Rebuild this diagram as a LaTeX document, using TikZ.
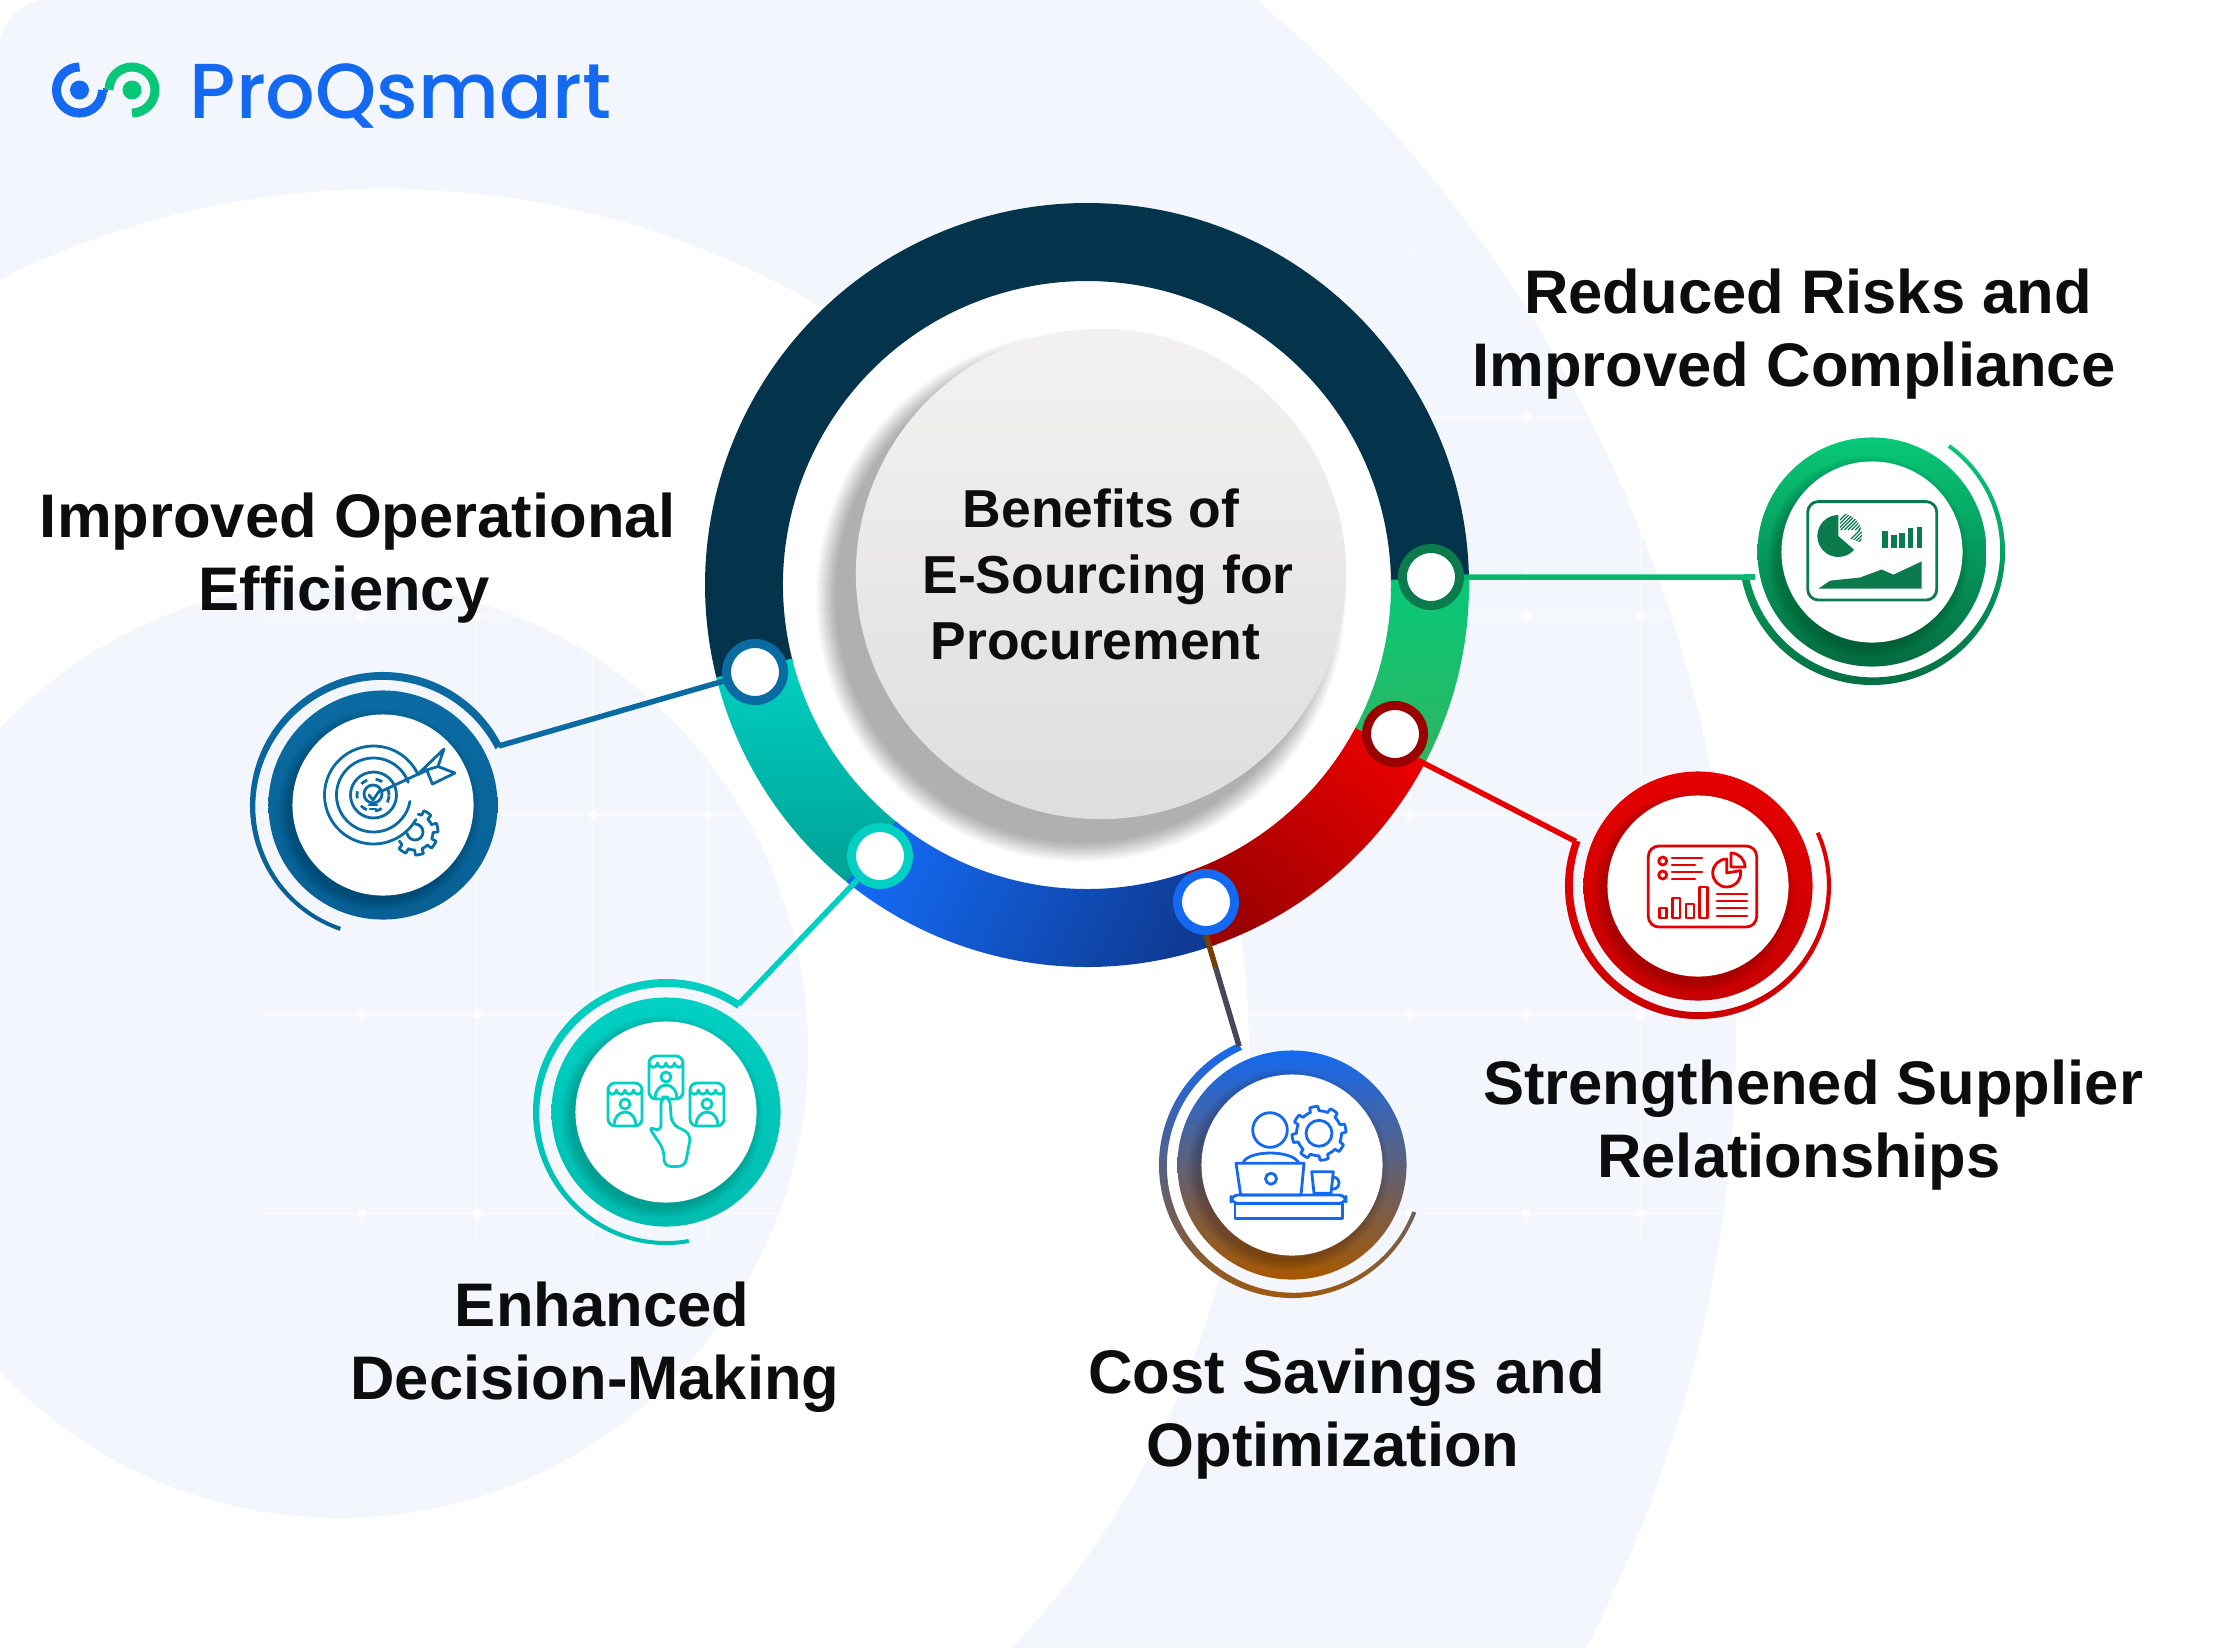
\documentclass[tikz,border=0pt]{standalone}
\usepackage{fontspec}
\usepackage{tikz}
\setmainfont{Liberation Sans}
\newfontfamily\logofont{Poppins Medium}
\definecolor{bgblue}{HTML}{F3F6FC}
\definecolor{navy}{HTML}{04344C}
\definecolor{qblue}{HTML}{1469F0}
\definecolor{qgreen}{HTML}{08C878}
\definecolor{qgreenb}{HTML}{2EB560}
\definecolor{deepblue}{HTML}{0E3A93}
\definecolor{opblue}{HTML}{0A6BA2}
\definecolor{opdark}{HTML}{086094}
\definecolor{teal}{HTML}{00D0C2}
\definecolor{tealmid}{HTML}{00BDB0}
\definecolor{tealdark}{HTML}{00A094}
\definecolor{costbrown}{HTML}{A85800}
\definecolor{rred}{HTML}{E60000}
\definecolor{rbadge}{HTML}{C80000}
\definecolor{rdark}{HTML}{9A0000}
\definecolor{gdark}{HTML}{046B40}
\definecolor{gicon}{HTML}{0B7A4C}
\definecolor{hubtop}{HTML}{F4F1F1}
\definecolor{hubbottom}{HTML}{DEDEDE}
\tikzset{
  label text/.style={font=\bfseries\fontsize{17.5}{20.9}\selectfont, align=center, inner sep=0pt, text=black!95},
  ring dot/.style={circle, fill=white, draw=#1, line width=0.09cm, minimum size=0.57cm, inner sep=0pt},
  badge/.style={circle, minimum size=2.29cm, inner sep=0pt},
  badge hole/.style={circle, fill=white, minimum size=1.81cm, inner sep=0pt},
  link/.style={line width=0.055cm, line join=miter},
  icon line/.style={line width=0.028cm, line join=round, line cap=round},
}
\newcommand{\ringpart}[5]{
  \shade[#3, #4, shading angle=#5] ([shift={(#1:382)}]1087,-585) arc[start angle=#1, end angle=#2, radius=382]
    -- ([shift={(#2:304)}]1087,-585) arc[start angle=#2, end angle=#1, radius=304] -- cycle;
}
\newcommand{\iconbadge}[7]{
  \node[badge, top color=#4, bottom color=#5] (#1) at (#2,#3) {};
  \foreach \r in {91,...,101} {
    \fill[black, opacity=0.015] (#2-4,#3-5) circle[radius=\r];
  }
  \node[badge hole] (#1hole) at (#2,#3) {};
  \shade[top color=#4, bottom color=#5] ([shift={(#6:133)}]#1.center) arc[start angle=#6, end angle=#7, radius=133]
    -- ([shift={(#7:129)}]#1.center) arc[start angle=#7, end angle=#6, radius=127] -- cycle;
  \coordinate (#1joint) at ([shift={(#6:130)}]#1.center);
}
\newcommand{\gearplot}[7]{
  \draw[icon line, #7] plot[samples=145, variable=\t, domain=#5:#6]
    ({#1+ifthenelse(sin(8*\t)>0,#3,#4)*cos(\t)},{#2+ifthenelse(sin(8*\t)>0,#3,#4)*sin(\t)});
}
\begin{document}
\begin{tikzpicture}[x=0.01cm, y=0.01cm]
  \useasboundingbox (0,0) rectangle (2215,-1648);
  \fill[white] (0,0) rectangle (2215,-1648);
  \begin{scope}
    \clip[rounded corners=14] (0,0) rectangle (2215,-1648);
    \fill[bgblue] (390,-1030) circle[radius=1346];
    \fill[white] (385,-1053) circle[radius=864];
    \fill[bgblue] (340,-1050) circle[radius=468];
    \foreach \x in {362,477,593,708,1410,1526,1641} {
      \draw[white, opacity=0.55, line width=0.015cm] (\x,-250) -- (\x,-1240);
    }
    \foreach \y in {-417,-616,-815,-1014,-1213} {
      \draw[white, opacity=0.55, line width=0.015cm] (258,\y) -- (1750,\y);
      \foreach \x in {362,477,593,708,1410,1526,1641} {
        \fill[white, opacity=0.8] (\x,\y) circle[radius=5];
      }
    }
  \end{scope}

  \draw[qblue, line width=0.09cm] (79.5,-67) arc[start angle=90, end angle=360, radius=23];
  \fill[qblue] (79.5,-90) circle[radius=9.5];
  \draw[qblue, line width=0.04cm] (102.5,-90) -- (108,-90);
  \draw[qgreen, line width=0.09cm] (132,-113) arc[start angle=-90, end angle=180, radius=23];
  \fill[qgreen] (132,-90) circle[radius=9.5];
  \node[inner sep=0pt, anchor=base west, text=qblue] (logo) at (189,-118) {\logofont\fontsize{22.15}{26}\selectfont ProQsmart};

  \fill[white] (1087,-585) circle[radius=304];
  \foreach \r in {245,...,265} {
    \fill[black, opacity=0.014] (1081,-597) circle[radius=\r];
  }
  \ringpart{-1}{194.5}{top color=navy}{bottom color=navy}{0}
  \ringpart{194}{232}{top color=teal}{bottom color=tealdark}{0}
  \ringpart{231}{290}{top color=qblue}{bottom color=deepblue}{65}
  \ringpart{-71}{-27.5}{top color=rred}{bottom color=rdark}{-40}
  \ringpart{-28}{1}{top color=qgreen}{bottom color=qgreenb}{0}
  \node[circle, top color=hubtop, bottom color=hubbottom, minimum size=4.9cm, inner sep=0pt] (hub) at (1101,-574) {};
  \node[font=\bfseries\fontsize{15.2}{18.8}\selectfont, align=center, inner sep=0pt, text=black!95] (title) at (1108,-574.5)
    {Benefits of\hspace*{0.14cm}\\E-Sourcing for\\Procurement\hspace*{0.25cm}};

  \node[ring dot=opblue] (dotop) at (755,-672) {};
  \node[ring dot=teal] (dotdec) at (880,-856) {};
  \node[ring dot=qblue] (dotcost) at (1206,-902) {};
  \node[ring dot=rdark] (dotsup) at (1395,-734) {};
  \node[ring dot=gicon] (dotrisk) at (1431,-577) {};

  \iconbadge{op}{383}{-805}{opblue}{opdark}{27}{251}
  \iconbadge{dec}{666}{-1112}{teal}{tealmid}{56}{280}
  \iconbadge{cost}{1292}{-1165}{qblue}{costbrown}{114}{339}
  \iconbadge{sup}{1698}{-886}{rred}{rbadge}{160}{384}
  \iconbadge{risk}{1872}{-552}{qgreen}{gdark}{191}{414}

  \draw[link, opblue] (dotop) -- (opjoint);
  \draw[link, teal] (dotdec) -- (decjoint);
  \path (dotcost.south) -- (costjoint) coordinate[pos=0.3] (costmid);
  \draw[link, costbrown!70!black] (dotcost.south) -- (costmid);
  \draw[link, qblue!50!costbrown!75!black] (costmid) -- (costjoint);
  \draw[link, rred] (dotsup.-50) -- (supjoint);
  \draw[link, qgreen!80!gicon] (dotrisk) -- (1755,-577) -- (riskjoint);

  \node[label text] (oplabel) at (344,-558) {\hspace*{0.28cm}Improved Operational\\Efficiency};
  \node[label text] (declabel) at (595,-1347) {\hspace*{0.14cm}Enhanced\\Decision-Making};
  \node[label text] (costlabel) at (1333,-1414) {\hspace*{0.27cm}Cost Savings and\\Optimization};
  \node[label text] (suplabel) at (1799,-1125) {\hspace*{0.28cm}Strengthened Supplier\\Relationships};
  \node[label text] (risklabel) at (1794,-334) {\hspace*{0.28cm}Reduced Risks and\\Improved Compliance};

  \begin{scope}[opblue]
    \draw[icon line] (373.5,-795) ++(25:49) arc[start angle=25, end angle=330, radius=49];
    \draw[icon line] (373.5,-795) ++(20:37) arc[start angle=20, end angle=350, radius=37];
    \draw[icon line] (373.5,-795) circle[radius=23];
    \draw[icon line] (373,-794) circle[radius=9];
    \draw[icon line, dash pattern=on 2pt off 2.4pt, line cap=butt] (373,-795) circle[radius=16];
    \draw[icon line] (369,-795) -- (373,-800) -- (380,-790);
    \draw[icon line] (369,-805) -- (377,-805) (370,-809) -- (376,-809);
    \draw[icon line] (382,-791) -- (427,-770);
    \draw[icon line] (417,-775) -- (444,-749) -- (438,-766.5) -- (455,-773) -- (432.4,-784) -- (426.7,-770) -- cycle;
    \draw[icon line] (426.7,-770) -- (438,-766.5);
    \gearplot{415}{-832}{23}{18}{-150}{80}{opblue}
    \draw[icon line] (415,-832) ++(90:8) arc[start angle=90, end angle=-170, radius=8];
  \end{scope}

  \begin{scope}[teal]
    \foreach \cx/\cy in {625/-1083, 666/-1056, 707/-1083} {
      \draw[icon line, rounded corners=2] (\cx-17,\cy) rectangle (\cx+17,\cy-43);
      \draw[icon line] (\cx-17,\cy-7) arc[start angle=180, end angle=360, radius=4.25] arc[start angle=180, end angle=360, radius=4.25] arc[start angle=180, end angle=360, radius=4.25] arc[start angle=180, end angle=360, radius=4.25];
      \draw[icon line] (\cx,\cy-21) circle[radius=5];
      \draw[icon line] (\cx-11,\cy-42) arc[start angle=180, end angle=0, x radius=11, y radius=13];
    }
    \draw[icon line, fill=white, rounded corners=2] (661,-1097) -- (661,-1132) -- (648,-1126) -- (664,-1150) -- (664,-1166.5)
      -- (685,-1166.5) -- (691,-1134) -- (671.6,-1124) -- (669.7,-1097) -- cycle;
  \end{scope}

  \begin{scope}[qblue]
    \draw[icon line] (1270,-1130) circle[radius=17.3];
    \draw[icon line] (1243.3,-1162) .. controls (1250,-1150) and (1290,-1150) .. (1298.3,-1162);
    \draw[icon line] (1236,-1163.3) -- (1304,-1163.3) -- (1301,-1195) -- (1240.7,-1195) -- cycle;
    \draw[icon line] (1271,-1178.7) circle[radius=5.5];
    \draw[icon line, rounded corners=2] (1231,-1195) rectangle (1346,-1203.3);
    \draw[icon line] (1235,-1203.3) rectangle (1342.3,-1218.3);
    \draw[icon line] (1311.7,-1171.7) -- (1333.3,-1171.7) -- (1331,-1193.3) -- (1314,-1193.3) -- cycle;
    \draw[icon line] (1333,-1177) arc[start angle=90, end angle=-90, radius=6];
    \gearplot{1319}{-1133.3}{27}{22.5}{0}{360}{qblue}
    \draw[icon line] (1319,-1133.3) circle[radius=13];
  \end{scope}

  \begin{scope}[rred]
    \draw[icon line, rounded corners=3] (1648.3,-846) rectangle (1756.7,-927);
    \draw[icon line] (1662.7,-861) circle[radius=4] (1662.7,-875) circle[radius=4];
    \draw[icon line] (1672,-858) -- (1702,-858) (1672,-865) -- (1695,-865) (1672,-872) -- (1702,-872) (1672,-879) -- (1695,-879);
    \draw[icon line] (1726.7,-859) arc[start angle=90, end angle=370, radius=14] -- (1726.7,-873) -- cycle;
    \draw[icon line] (1731,-867) -- (1731,-853) arc[start angle=90, end angle=0, radius=14] -- cycle;
    \foreach \xa/\xb/\yt in {1659.3/1666.7/-908, 1672.3/1680/-898, 1686/1694/-904, 1699.3/1707.7/-887} {
      \draw[icon line] (\xa,\yt) rectangle (\xb,-918);
    }
    \foreach \yl in {-894,-901,-908,-916} {
      \draw[icon line] (1717,\yl) -- (1747,\yl);
    }
  \end{scope}

  \begin{scope}[gicon]
    \draw[icon line, rounded corners=3] (1807.7,-501.6) rectangle (1936.7,-600);
    \fill (1838.3,-536) -- ++(90:21) arc[start angle=90, end angle=319, radius=21] -- cycle;
    \begin{scope}
      \clip (1840,-535) -- ++(90:22) arc[start angle=90, end angle=-20, radius=22] -- cycle;
      \foreach \d in {0,3.6,...,54} {
        \draw[line width=0.012cm] (1830+\d,-560) -- (1830+\d+30,-530);
        \draw[line width=0.012cm] (1830+\d,-530) -- (1830+\d+30,-500);
      }
    \end{scope}
    \foreach \xa/\xb/\yt in {1881.7/1888.3/-530.5, 1890.7/1896.7/-534.5, 1899.3/1905/-532.5, 1908.3/1913.3/-527.7, 1916.7/1922.3/-526.5} {
      \fill (\xa,\yt) rectangle (\xb,-547.8);
    }
    \fill (1818.3,-588.7) -- (1830,-580.7) -- (1860,-577.5) -- (1881.7,-569.5) -- (1893.3,-574.7) -- (1921.7,-561.4) -- (1921.7,-588.7) -- cycle;
  \end{scope}
\end{tikzpicture}
\end{document}
